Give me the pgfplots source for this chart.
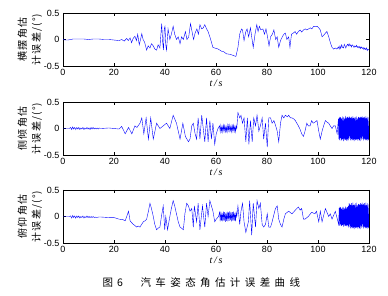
\documentclass[border=0pt]{standalone}
\usepackage{fontspec}
\setmainfont{Liberation Sans}
\newfontfamily\cjklab[LetterSpace=12]{Noto Sans CJK SC}
\newfontfamily\cjkcap[LetterSpace=42]{Noto Sans CJK SC}
\newfontfamily\cjk{Noto Sans CJK SC}
\newfontfamily\serifit{Liberation Serif}
\usepackage{pgfplots}
\pgfplotsset{compat=1.18}
\pgfplotsset{myax/.style={
  scale only axis, width=306pt, height=53pt,
  xmin=0, xmax=120, ymin=-0.5, ymax=0.5,
  xtick={0,20,40,60,80,100,120},
  ytick={-0.5,0,0.5}, yticklabels={-0.5,0,0.5},
  tick align=inside, tick pos=both,
  major tick length=3pt,
  every tick/.style={black, line width=0.5pt},
  axis line style={line width=0.6pt},
  tick label style={font=\fontsize{9}{10}\selectfont},
  /pgf/number format/assume math mode=true,
  xlabel={\serifit\itshape t\,/\,s},
  xlabel style={font=\fontsize{10}{12}\selectfont, yshift=3pt},
  ylabel style={at={(axis description cs:-0.108,0.5)}, anchor=center, align=center,
     font=\cjklab\fontsize{10}{14}\selectfont},
  no markers,
  cycle list={{blue, line width=0.55pt}},
}}
\begin{document}
\begin{tikzpicture}
\path[use as bounding box] (0pt,0pt) rectangle (388pt,-296pt);
% ---------- plot 1 ----------
\begin{axis}[myax, at={(63pt,-13pt)}, anchor=north west,
  ylabel={横摆角估\\计误差/(°)}]
\addplot table {
0 0
1 -0.01
2 -0.01
3 0.0
4 0.01
6 0.01
8 0.01
10 0.0
12 0.01
14 0.01
16 0.0
18 0.0
20 -0.01
22 -0.02
23 0.0
24 -0.03
25 0.02
25.6 -0.02
26.3 0.03
26.9 -0.06
27.5 0.02
28.2 0.06
28.8 -0.02
29.3 0.1
29.9 -0.1
30.5 0.02
30.9 0.11
31.4 0.0
32 -0.05
32.8 -0.2
33.4 -0.12
34.1 -0.16
34.7 -0.08
35.4 -0.12
36 -0.18
36.7 -0.2
37.3 -0.1
38 -0.16
38.7 0.3
39.1 -0.05
39.4 -0.2
39.7 0.2
40 0.25
40.3 -0.1
40.6 -0.2
41.2 0.2
41.9 0.0
42.5 0.1
43.2 0.25
43.8 0.1
44.5 0.0
45.2 0.05
45.9 -0.08
46.5 0.05
47.2 0.0
48 0.15
48.6 0.0
49.3 0.05
50 0.3
50.6 0.15
51.2 0.0
51.8 0.12
52.5 0.2
53.1 0.1
53.7 0.28
54.4 0.2
55 0.22
55.6 0.28
56.3 0.2
56.9 0.15
57.6 0.05
58.2 -0.05
58.8 -0.15
59.5 -0.16
60.8 -0.18
61.5 -0.2
62.1 -0.22
63 -0.23
64.1 -0.27
65.5 -0.28
66.7 -0.3
67.8 -0.32
68.6 -0.15
69.3 0.1
70 0.2
70.4 0.18
71 -0.02
71.7 0.15
72.2 0.2
72.8 0.05
73.5 0.22
74 0.05
74.6 -0.15
75.3 0.1
76 0.28
76.5 0.15
77 0.25
77.6 0.18
78.4 0.2
79 0.1
79.6 0.2
80.2 0.05
80.8 -0.12
81.4 0.05
82.1 0.1
82.7 0.18
83.4 0.0
84 0.05
84.6 -0.15
85.3 -0.02
86 0.05
86.6 0.1
87.2 0.12
87.8 0.0
88.5 0.05
89 -0.15
89.6 0.1
90.3 0.12
91 0.15
91.6 0.1
92.3 0.15
93 0.18
93.6 0.14
94.3 0.18
95 0.2
95.6 0.18
96.3 0.2
97 0.22
97.6 0.2
98.3 0.25
99 0.24
99.6 0.25
100.3 0.22
100.9 0.18
101.6 0.05
102.2 0.08
102.9 0.12
103.5 0.15
104.2 0.05
104.8 -0.05
105.5 -0.15
106.1 -0.18
106.8 -0.16
107.4 -0.18
108 -0.14
108.3 -0.18
108.6 -0.12
108.9 -0.17
109.3 -0.1
109.6 -0.15
110 -0.16
110.3 -0.09
110.6 -0.12
110.9 -0.16
111.2 -0.12
111.6 -0.09
111.9 -0.12
112.2 -0.08
112.5 -0.12
112.8 -0.1
113.1 -0.14
113.4 -0.1
113.8 -0.12
114.1 -0.15
114.4 -0.12
114.8 -0.14
115.1 -0.11
115.4 -0.15
115.7 -0.13
116.1 -0.16
116.4 -0.13
116.7 -0.17
117 -0.14
117.4 -0.17
117.7 -0.15
118 -0.19
118.3 -0.16
118.7 -0.19
119 -0.16
119.3 -0.21
119.6 -0.18
120 -0.2
};
\end{axis}
% ---------- plot 2 ----------
\begin{axis}[myax, at={(63pt,-102pt)}, anchor=north west,
  ylabel={侧倾角估\\计误差/(°)}]
\addplot table {
0 0
2.5 0
3.0 0.02
3.4 -0.02
3.8 0.03
4.2 -0.01
4.6 0.02
5.0 -0.02
5.4 0.02
5.8 -0.01
6.2 0.02
6.6 -0.02
7.0 0.01
7.4 -0.01
7.8 0.02
8.2 -0.02
8.6 0.01
9.0 -0.01
9.4 0.02
9.8 -0.01
10.2 0.01
10.6 -0.02
11.0 0.02
11.4 -0.01
11.8 0.02
12.2 -0.01
12.6 0.01
13.0 -0.01
13.4 0.01
13.8 -0.01
14.2 0.01
14.6 0.0
15 0
18 0.01
20 0
22 -0.01
23 0.04
24.4 -0.1
25.7 0.02
27 -0.1
28.2 0.05
29 0.02
30.2 0.1
30.9 0.2
31.7 -0.1
32.6 0.2
33.5 -0.2
34.4 0.2
35.4 -0.2
36.7 0.1
38 0.0
39.3 0.05
40.6 0.1
41.9 0.0
43.2 0.25
44.5 0.1
45.9 -0.2
47 0.1
48 -0.15
49.2 -0.25
49.8 -0.2
50.5 0.05
51.1 0.1
51.8 -0.1
52.4 -0.2
53 0.2
53.7 -0.2
54.4 0.25
55 0.0
55.6 -0.25
56.3 0.2
56.9 -0.25
57.6 0.15
58.2 -0.2
58.8 0.1
59.5 -0.3
60.1 -0.1
60.8 0.0
61.4 0.05
61.65 -0.06
61.9 0.06
62.15 -0.05
62.4 0.04
62.65 -0.06
62.9 0.06
63.15 -0.05
63.4 0.05
63.65 -0.06
63.9 0.04
64.15 -0.05
64.4 0.06
64.65 -0.06
64.9 0.05
65.15 -0.05
65.4 0.06
65.65 -0.04
65.9 0.05
66.15 -0.06
66.4 0.05
66.65 -0.05
66.9 0.06
67.15 -0.05
67.4 0.04
67.65 -0.06
67.9 0.05
68.15 0.0
68.6 0.3
69.3 0.2
69.8 0.25
70.4 0.1
71 0.2
71.7 -0.25
72.3 0.2
72.9 -0.3
73.5 0.15
74.2 -0.25
74.8 0.2
75.5 0.05
76.1 0.25
76.8 -0.05
77.4 0.05
78.1 0.2
78.7 -0.2
79.4 0.1
80.1 -0.35
80.7 0.2
81.4 0.2
82 0.1
82.7 0.15
83.4 0.05
84 -0.05
84.6 -0.25
85.3 0.1
85.9 0.25
86.6 0.2
87.2 0.25
88 0.22
88.5 0.25
89.2 0.2
89.8 0.2
90.5 0.18
91.1 0.15
91.7 0.1
92.3 0.05
93 -0.02
93.6 -0.1
94.3 -0.15
94.9 -0.05
95.6 0.1
96.2 0.05
96.9 0.05
97.5 0.15
98.1 0.1
98.8 0.12
99.6 0.15
100.3 -0.05
100.9 -0.2
101.6 -0.05
102.2 0.05
102.9 0.15
103.5 0.12
104.2 0.1
104.8 0.05
105.5 0.0
106.1 0.05
106.8 0.05
107.5 -0.1
108.00 0.18
108.15 -0.2
108.30 0.2
108.45 -0.22
108.60 0.22
108.75 -0.18
108.90 0.21
109.05 -0.23
109.20 0.19
109.35 -0.21
109.50 0.23
109.65 -0.2
109.80 0.2
109.95 -0.24
110.10 0.22
110.25 -0.19
110.40 0.2
110.55 -0.22
110.70 0.24
110.85 -0.21
111.00 0.19
111.15 -0.23
111.30 0.21
111.45 -0.2
111.60 0.22
111.75 -0.24
111.90 0.2
112.05 -0.21
112.20 0.23
112.35 -0.19
112.50 0.21
112.65 -0.22
112.80 0.2
112.95 -0.23
113.10 0.22
113.25 -0.2
113.40 0.19
113.55 -0.22
113.70 0.23
113.85 -0.21
114.00 0.2
114.15 -0.24
114.30 0.21
114.45 -0.2
114.60 0.22
114.75 -0.22
114.90 0.2
115.05 -0.21
115.20 0.23
115.35 -0.2
115.50 0.19
115.65 -0.23
115.80 0.22
115.95 -0.2
116.10 0.21
116.25 -0.22
116.40 0.2
116.55 -0.24
116.70 0.22
116.85 -0.19
117.00 0.21
117.15 -0.22
117.30 0.23
117.45 -0.2
117.60 0.2
117.75 -0.23
117.90 0.21
118.05 -0.21
118.20 0.22
118.35 -0.2
118.50 0.19
118.65 -0.22
118.80 0.23
118.95 -0.21
119.10 0.2
119.25 -0.23
119.40 0.22
119.55 -0.2
119.70 0.21
119.85 -0.22
120.00 0.05
};
\end{axis}
% ---------- plot 3 ----------
\begin{axis}[myax, at={(63pt,-190pt)}, anchor=north west,
  ylabel={俯仰角估\\计误差/(°)}]
\addplot table {
0 0
2.5 0
3.0 0.01
3.4 -0.03
3.8 0.02
4.2 -0.02
4.6 0.01
5.0 -0.03
5.4 0.01
5.8 -0.02
6.2 0.01
6.6 -0.03
7.0 0.0
7.4 -0.02
7.8 0.01
8.2 -0.03
8.6 0.0
9.0 -0.02
9.4 0.01
9.8 -0.02
10.2 0.0
10.6 -0.02
11.0 0.0
11.4 -0.02
11.8 0.0
12.2 -0.02
12.6 -0.01
13.0 -0.02
14 -0.01
15 -0.01
18 -0.02
20 -0.02
22 -0.05
23.5 -0.06
24.4 -0.08
25 0.0
25.7 0.1
26.3 -0.08
27 -0.12
27.6 -0.15
28.2 -0.17
28.9 -0.2
29.5 -0.18
30.2 -0.2
30.8 -0.15
31.5 -0.1
32.2 -0.08
32.8 -0.05
33.5 0.1
34.1 0.25
34.7 0.15
35.4 0.0
36 -0.15
36.7 -0.25
37.3 -0.22
38 -0.2
38.6 0.0
39.3 0.2
39.9 -0.25
40.3 0.0
40.6 -0.1
41 -0.25
41.9 0.0
42.5 0.15
43.2 0.3
43.8 0.2
44.5 0.05
45.2 -0.1
45.9 -0.2
46.5 -0.22
47.2 -0.25
47.8 0.05
48.5 0.25
49.2 0.2
49.8 0.1
50.5 0.15
51.1 -0.2
51.5 0.2
52.4 -0.1
53 0.25
53.7 -0.25
54.7 0.2
55.6 -0.2
56.3 0.25
56.9 0.0
57.6 0.3
58.2 0.2
58.8 0.1
59.5 -0.1
60.1 -0.05
61 0.0
61.4 0.08
61.65 -0.09
61.9 0.09
62.15 -0.08
62.4 0.07
62.65 -0.09
62.9 0.09
63.15 -0.08
63.4 0.08
63.65 -0.1
63.9 0.07
64.15 -0.08
64.4 0.09
64.65 -0.09
64.9 0.08
65.15 -0.08
65.4 0.1
65.65 -0.07
65.9 0.08
66.15 -0.09
66.4 0.08
66.65 -0.08
66.9 0.09
67.15 -0.08
67.4 0.07
67.65 -0.09
67.9 0.08
68.15 0.0
68.6 0.2
69.3 -0.15
69.8 0.1
70.4 0.25
71 -0.1
71.7 -0.3
72.7 -0.1
73.2 0.3
74 -0.35
74.6 0.25
75.5 -0.2
76.1 0.3
76.8 0.15
77.4 0.25
78.1 -0.15
78.7 -0.2
79.4 -0.15
80.1 0.05
80.7 -0.2
81.4 -0.2
82 -0.1
83.3 0.15
84 0.2
84.6 -0.05
85.3 -0.15
85.9 -0.2
86.6 -0.05
87.2 0.05
88.5 0.1
89.8 0.05
91.1 0.12
92.3 0.18
93 0.12
93.6 0.15
94.3 -0.05
94.9 -0.05
96.2 0.0
97.5 0.08
98.8 0.05
99.4 0.1
100.3 -0.1
100.9 0.1
101.6 -0.1
102.9 0.15
104.2 0.0
104.8 0.05
105.5 -0.05
106.8 0.1
108.1 -0.15
108.30 0.16
108.45 -0.17
108.60 0.18
108.75 -0.15
108.90 0.17
109.05 -0.18
109.20 0.15
109.35 -0.17
109.50 0.18
109.65 -0.16
109.80 0.16
109.95 -0.19
110.10 0.18
110.25 -0.15
110.40 0.16
110.55 -0.18
110.70 0.19
110.85 -0.17
111.00 0.15
111.15 -0.18
111.30 0.17
111.45 -0.16
111.60 0.18
111.75 -0.19
111.90 0.2
112.05 -0.21
112.20 0.25
112.35 -0.2
112.50 0.23
112.65 -0.22
112.80 0.22
112.95 -0.23
113.10 0.25
113.25 -0.2
113.40 0.21
113.55 -0.22
113.70 0.26
113.85 -0.21
114.00 0.22
114.15 -0.24
114.30 0.23
114.45 -0.2
114.60 0.25
114.75 -0.22
114.90 0.22
115.05 -0.21
115.20 0.26
115.35 -0.2
115.50 0.21
115.65 -0.23
115.80 0.24
115.95 -0.2
116.10 0.23
116.25 -0.22
116.40 0.22
116.55 -0.24
116.70 0.25
116.85 -0.19
117.00 0.23
117.15 -0.22
117.30 0.26
117.45 -0.2
117.60 0.22
117.75 -0.23
117.90 0.24
118.05 -0.21
118.20 0.25
118.35 -0.2
118.50 0.21
118.65 -0.22
118.80 0.26
118.95 -0.21
119.10 0.22
119.25 -0.23
119.40 0.25
119.55 -0.2
119.70 0.23
119.85 -0.22
120.00 0.05
};
\end{axis}
\node[anchor=west, font=\cjk\fontsize{10.5}{12}\selectfont] at (99pt,-283pt) {图\hspace{4pt}6};
\node[anchor=west, font=\cjkcap\fontsize{10.5}{12}\selectfont] at (137pt,-283pt) {汽车姿态角估计误差曲线};
\end{tikzpicture}
\end{document}
